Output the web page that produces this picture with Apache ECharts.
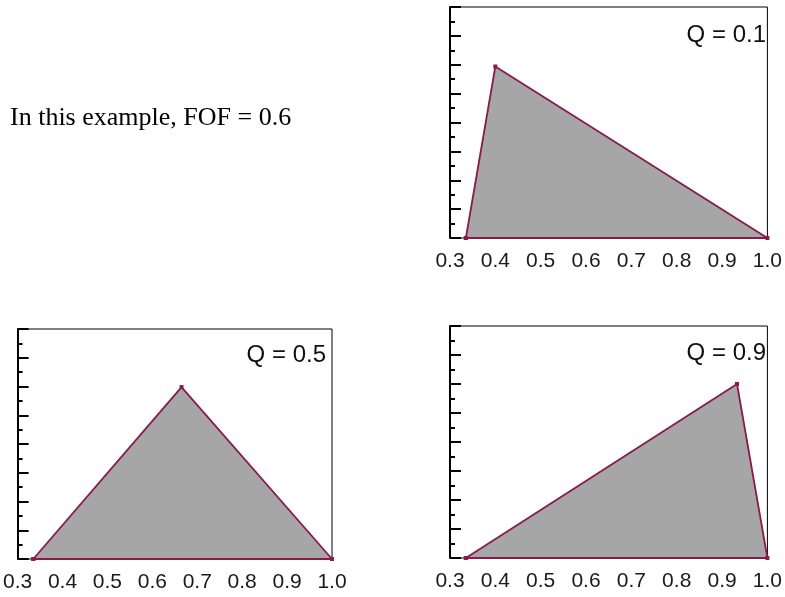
<!DOCTYPE html>
<html lang="en">
  <head>
    <meta charset="UTF-8">
    <title>Triangular distributions, FOF = 0.6</title>
    <script src="https://cdn.jsdelivr.net/npm/echarts@6/dist/echarts.min.js"></script>
    <style>
      html, body { margin: 0; padding: 0; background: #fff; }
    </style>
  </head>
  <body>
    <div id="main" style="width: 785px;height:597px;"></div>
    <script type="text/javascript">
      // values
      var xTicks = ['0.3', '0.4', '0.5', '0.6', '0.7', '0.8', '0.9', '1.0'];
      var qLabels = ['Q = 0.1', 'Q = 0.5', 'Q = 0.9'];
      var q01 = [[0.335, 0], [0.4, 2.97], [1.0, 0], [0.335, 0]];
      var q05 = [[0.335, 0], [0.665, 2.99], [1.0, 0], [0.335, 0]];
      var q09 = [[0.335, 0], [0.933, 3.0], [1.0, 0], [0.335, 0]];
      var curves = [q01, q05, q09];

      var grids = [
        {left: 450, top: 7, width: 323, height: 231},
        {left: 9, top: 329, width: 323, height: 230},
        {left: 450, top: 326, width: 324, height: 232}
      ];

      var lineColor = '#8a1a4c';
      var font = '"Liberation Sans", Arial, sans-serif';

      var option = {
        animation: false,
        backgroundColor: '#fff',
        grid: grids.map(function (g) {
          return Object.assign({show: true, borderColor: '#000', borderWidth: 1, backgroundColor: 'transparent'}, g);
        }),
        xAxis: grids.map(function (g, i) {
          return {
            type: 'value', gridIndex: i,
            min: 0.3, max: 1.0, interval: 0.1,
            axisLine: {show: false},
            axisTick: {show: false},
            splitLine: {show: false},
            axisLabel: {
              margin: 13, color: '#1a1a1a', fontSize: 21, fontFamily: font,
              formatter: function (v) { return xTicks[Math.round((v - 0.3) * 10)]; }
            }
          };
        }),
        yAxis: grids.map(function (g, i) {
          return {
            type: 'value', gridIndex: i,
            min: 0, max: 4, interval: 0.5,
            axisLine: {show: true, lineStyle: {color: '#000', width: 2}},
            axisTick: {show: true, inside: true, length: 11, lineStyle: {color: '#000', width: 2}},
            minorTick: {show: true, splitNumber: 2, length: 5, lineStyle: {color: '#000', width: 2}},
            axisLabel: {show: false},
            splitLine: {show: false}
          };
        }),
        series: curves.map(function (d, i) {
          return {
            type: 'line', xAxisIndex: i, yAxisIndex: i,
            data: d, clip: false,
            symbol: 'rect', symbolSize: 4,
            itemStyle: {color: lineColor},
            lineStyle: {color: lineColor, width: 1.8},
            areaStyle: {color: '#a6a6a6', opacity: 1}
          };
        }),
        graphic: [
          {type: 'text', x: 766, y: 23, style: {text: qLabels[0], font: '24px ' + font, fill: '#111', align: 'right', verticalAlign: 'top'}},
          {type: 'text', x: 326, y: 343, style: {text: qLabels[1], font: '24px ' + font, fill: '#111', align: 'right', verticalAlign: 'top'}},
          {type: 'text', x: 766, y: 341, style: {text: qLabels[2], font: '24px ' + font, fill: '#111', align: 'right', verticalAlign: 'top'}},
          {type: 'text', x: 10, y: 105, style: {text: 'In this example, FOF = 0.6', font: '26px "Liberation Serif", "Times New Roman", serif', fill: '#000', align: 'left', verticalAlign: 'top'}}
        ]
      };

      echarts.init(document.getElementById('main')).setOption(option);
    </script>
  </body>
</html>
